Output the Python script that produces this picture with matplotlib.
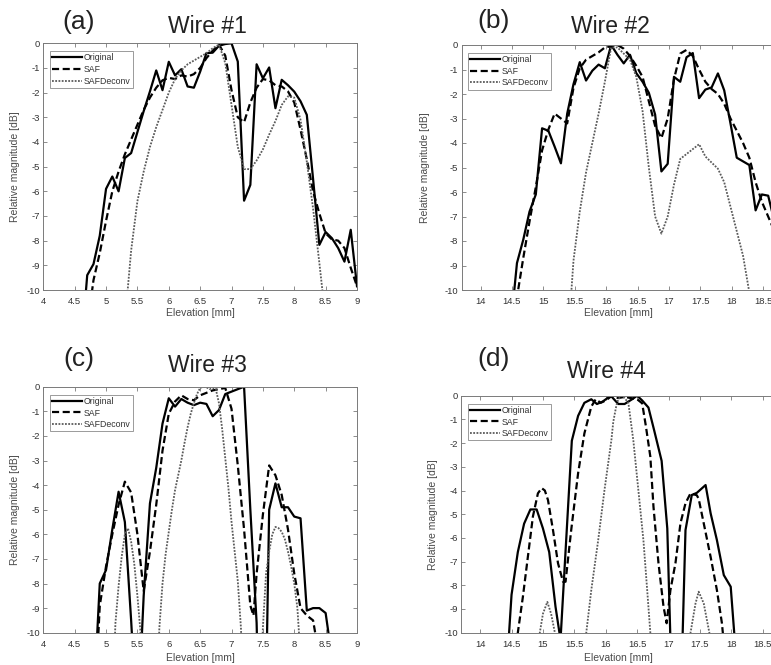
import numpy as np
import matplotlib
matplotlib.use("Agg")
import matplotlib.pyplot as plt
from matplotlib.ticker import FormatStrFormatter

plt.rcParams['font.family'] = ['Liberation Sans', 'DejaVu Sans']
plt.rcParams['axes.unicode_minus'] = False

# ---------------- data: elevation [mm] / relative magnitude [dB] ----------------
# Wire #1
a_x = np.round(np.arange(4.6, 9.05, 0.1), 2)
a_orig = [-12.5, -9.4, -8.95, -7.8, -5.9, -5.4, -6.0, -4.65, -4.45, -3.6, -2.75, -1.95,
          -1.1, -1.9, -0.75, -1.3, -1.05, -1.75, -1.8, -1.15, -0.4, -0.38, -0.1, -0.03,
          0.0, -0.74, -6.38, -5.74, -0.85, -1.42, -0.98, -2.63, -1.48, -1.7, -1.96,
          -2.35, -2.9, -5.5, -8.17, -7.65, -7.9, -8.3, -8.85, -7.56, -9.85]
a_saf = [-14, -11.5, -9.6, -8.5, -7.2, -6.0, -5.2, -4.5, -3.9, -3.3, -2.7, -2.2, -1.8,
         -1.5, -1.4, -1.45, -1.3, -1.35, -1.25, -1.0, -0.6, -0.3, -0.05, -0.5, -1.9,
         -3.0, -3.2, -2.4, -1.8, -1.45, -1.5, -1.7, -1.75, -1.95, -2.4, -3.5, -4.7,
         -6.0, -6.9, -7.7, -7.95, -8.0, -8.3, -9.1, -9.85]
a_dec_x = np.round(np.arange(5.2, 8.55, 0.1), 2)
a_dec = [-14, -11.3, -8.4, -6.4, -5.2, -4.2, -3.4, -2.7, -2.0, -1.45, -1.1, -0.85, -0.7,
         -0.55, -0.4, -0.2, -0.05, -0.8, -2.5, -4.2, -5.1, -5.1, -4.75, -4.3, -3.7,
         -3.15, -2.5, -2.15, -2.2, -3.1, -4.8, -6.7, -8.9, -11.2]

# Wire #2
b_x = np.round(np.arange(14.48, 18.70, 0.1), 2)
b_orig = [-11.5, -8.9, -7.95, -6.8, -6.1, -3.4, -3.5, -4.15, -4.83, -2.8, -1.6, -0.7,
          -1.45, -1.05, -0.8, -0.95, 0.0, -0.4, -0.75, -0.4, -1.15, -1.5, -1.95, -2.84,
          -5.16, -4.85, -1.3, -1.5, -0.5, -0.33, -2.17, -1.82, -1.73, -1.16, -1.85,
          -3.2, -4.6, -4.75, -4.9, -6.75, -6.1, -6.15, -7.2]
b_saf = [-13, -10.3, -8.7, -7.2, -5.8, -4.3, -3.45, -2.8, -3.0, -3.2, -1.75, -0.95,
         -0.6, -0.45, -0.3, -0.1, -0.05, 0.0, -0.15, -0.45, -0.85, -1.3, -2.3, -3.3,
         -3.8, -3.0, -1.4, -0.35, -0.2, -0.45, -1.0, -1.5, -1.8, -2.0, -2.4, -3.0,
         -3.5, -4.0, -4.6, -5.6, -6.4, -7.0, -7.6]
b_dec_x = np.round(np.arange(15.38, 18.40, 0.1), 2)
b_dec = [-12.5, -8.8, -6.8, -5.2, -4.0, -2.8, -1.5, -0.1, -0.1, -0.35, -0.6, -1.3,
         -2.7, -5.0, -7.0, -7.7, -7.0, -5.7, -4.65, -4.45, -4.25, -4.05, -4.55, -4.8,
         -5.05, -5.6, -6.6, -7.6, -8.6, -10.1, -11.5]

# Wire #3
c_orig_x = np.round(np.arange(4.7, 8.65, 0.1), 2)
c_orig = [-30, -13, -8.0, -7.45, -5.8, -4.27, -5.5, -9.5, -14, -8.5, -4.74, -3.3, -1.5,
          -0.47, -0.81, -0.5, -0.65, -0.75, -0.65, -0.7, -1.2, -0.95, -0.3, -0.2, -0.1,
          0.0, -5.0, -9.6, -20, -5.0, -3.93, -4.9, -4.9, -5.28, -5.35, -9.1, -9.0,
          -9.0, -9.2, -11]
c_saf_x = [4.7, 4.8, 4.9, 5.0, 5.1, 5.2, 5.3, 5.4, 5.5, 5.6, 5.7, 5.8, 5.9, 6.0, 6.1,
           6.2, 6.3, 6.4, 6.5, 6.6, 6.7, 6.8, 6.9, 7.0, 7.1, 7.2, 7.3, 7.35, 7.4, 7.5,
           7.6, 7.7, 7.8, 7.9, 8.0, 8.1, 8.2, 8.3, 8.4]
c_saf = [-30, -14, -8.9, -7.3, -6.0, -4.8, -3.86, -4.3, -6.0, -8.3, -6.7, -4.8, -2.6,
         -1.1, -0.6, -0.35, -0.5, -0.55, -0.35, -0.25, -0.15, -0.1, -0.05, -0.9, -3.2,
         -5.8, -8.9, -9.3, -7.6, -5.2, -3.2, -3.6, -4.4, -5.8, -7.6, -9.0, -9.3, -9.5,
         -11]
c_dec_x = np.round(np.arange(5.10, 8.17, 0.05), 2)
c_dec = [-13, -9.6, -8.1, -6.9, -6.0, -5.75, -6.3, -7.2, -8.5, -10.0, -13, -13, -13,
         -13, -13, -9.8, -8.0, -6.8,
         -5.9, -5.0, -4.2, -3.6, -3.0, -2.3, -1.65, -1.1, -0.67, -0.3, -0.05, 0.0,
         -0.02, -0.1, -0.05, -0.1, -0.67, -1.7, -2.9, -4.1,
         -5.5, -6.7, -7.9, -9.8, -13, -13, -13, -13, -13, -13, -9.8, -7.6, -6.7, -6.0,
         -5.7, -5.75, -5.9, -6.2, -6.7, -7.3,
         -8.0, -9.0, -11, -13]

# Wire #4
d_orig_x = [14.40, 14.50, 14.60, 14.70, 14.80, 14.90, 15.00, 15.10, 15.20, 15.28,
            15.46, 15.56, 15.66, 15.77, 15.86, 15.95, 16.08, 16.20, 16.30, 16.42,
            16.50, 16.58, 16.68, 16.77, 16.89, 16.98, 17.03, 17.12, 17.22, 17.27,
            17.37, 17.45, 17.59, 17.67, 17.77, 17.88, 17.99, 18.06]
d_orig = [-12.5, -8.4, -6.6, -5.4, -4.8, -4.8, -5.6, -6.6, -8.9, -10.3,
          -1.9, -0.85, -0.3, -0.15, -0.35, -0.25, 0.0, -0.35, -0.35, -0.15,
          0.0, -0.2, -0.5, -1.45, -2.75, -5.6, -10.3, -13, -10.5, -5.67,
          -4.19, -4.1, -3.77, -4.96, -6.09, -7.57, -8.06, -10.5]
d_saf_x = [14.50, 14.60, 14.68, 14.76, 14.84, 14.92, 14.98, 15.03, 15.08, 15.16,
           15.24, 15.32, 15.36, 15.45, 15.56, 15.66, 15.77, 15.84, 15.92, 16.00,
           16.10, 16.20, 16.30, 16.40, 16.50, 16.58, 16.64, 16.71, 16.76, 16.84,
           16.92, 16.97, 17.03, 17.11, 17.19, 17.27, 17.35, 17.45, 17.48, 17.56,
           17.67, 17.77, 17.85, 17.90]
d_saf = [-14, -10.0, -8.5, -6.8, -5.1, -4.12, -3.9, -4.0, -4.4, -5.67,
         -7.07, -7.85, -7.85, -5.67, -3.27, -1.59, -0.46, -0.15, -0.3, -0.2,
         0.0, -0.1, -0.05, -0.1, -0.15, -0.32, -1.3, -2.57, -4.68, -7.07,
         -8.9, -9.6, -8.2, -7.07, -5.38, -4.54, -4.12, -4.2, -4.35, -5.38,
         -6.8, -8.2, -9.6, -11]
d_dec_x = [14.90, 14.95, 15.00, 15.07, 15.13, 15.19, 15.25, 15.60, 15.69, 15.77,
           15.88, 15.98, 16.09, 16.12, 16.17, 16.20, 16.25, 16.30, 16.36, 16.44,
           16.52, 16.60, 16.66, 16.71, 16.80, 17.30, 17.35, 17.43, 17.48, 17.56,
           17.65, 17.70]
d_dec = [-13, -10, -9.2, -8.7, -9.2, -10, -13, -13, -10, -8.2,
         -6.09, -3.98, -1.87, -1.1, -0.4, -0.15, 0.0, -0.1, -0.3, -1.9,
         -4.0, -6.1, -8.2, -10, -13, -13, -10, -8.76, -8.27, -8.76,
         -10, -13]

series_labels = ['Original', 'SAF', 'SAFDeconv']

# ---------------- figure layout (pixel boxes: left, top, right, bottom) ----------------
W, H = 771, 665
fig = plt.figure(figsize=(W / 100, H / 100), dpi=100)


def fx(px):
    return px / W


def fy(py):
    return 1 - py / H


panels = [
    dict(box=(43.3, 43.3, 357.0, 290.0), xlim=(4, 9), ticks=np.arange(4, 9.01, 0.5),
         letter='(a)', title='Wire #1', letter_xy=(79, 22), title_xy=(207, 33),
         ylab_x=15, xlab_y=313,
         data=[(a_x, a_orig), (a_x, a_saf), (a_dec_x, a_dec)]),
    dict(box=(461.7, 45.0, 775.7, 290.0), xlim=(13.7, 18.7), ticks=np.arange(14, 18.51, 0.5),
         letter='(b)', title='Wire #2', letter_xy=(494, 21), title_xy=(610, 33),
         ylab_x=425, xlab_y=313,
         data=[(b_x, b_orig), (b_x, b_saf), (b_dec_x, b_dec)]),
    dict(box=(43.3, 386.7, 357.0, 632.7), xlim=(4, 9), ticks=np.arange(4, 9.01, 0.5),
         letter='(c)', title='Wire #3', letter_xy=(79, 359), title_xy=(207, 372),
         ylab_x=15, xlab_y=658,
         data=[(c_orig_x, c_orig), (c_saf_x, c_saf), (c_dec_x, c_dec)]),
    dict(box=(461.3, 395.7, 775.3, 632.7), xlim=(13.7, 18.7), ticks=np.arange(14, 18.51, 0.5),
         letter='(d)', title='Wire #4', letter_xy=(494, 359), title_xy=(606, 378),
         ylab_x=433, xlab_y=658,
         data=[(d_orig_x, d_orig), (d_saf_x, d_saf), (d_dec_x, d_dec)]),
]

styles = [
    dict(color='black', lw=1.6, ls='-'),
    dict(color='black', lw=1.6, ls=(0, (3.2, 1.6))),
    dict(color='#5a5a5a', lw=1.3, ls=(0, (1, 0.8))),
]

text_col = '#333333'
axis_col = '#7a7a7a'

for p in panels:
    l, t, r, b = p['box']
    ax = fig.add_axes([fx(l), fy(b), (r - l) / W, (b - t) / H])
    for (xs, ys), st, lab in zip(p['data'], styles, series_labels):
        ax.plot(xs, ys, label=lab, **st)
    ax.set_xlim(*p['xlim'])
    ax.set_ylim(-10, 0)
    ax.set_xticks(p['ticks'])
    ax.set_yticks(np.arange(-10, 0.5, 1))
    ax.xaxis.set_major_formatter(FormatStrFormatter('%g'))
    ax.yaxis.set_major_formatter(FormatStrFormatter('%g'))
    ax.tick_params(direction='in', top=True, right=True, length=3, width=0.6,
                   colors=axis_col, labelcolor=text_col, labelsize=6.8)
    ax.tick_params(axis='x', pad=5)
    ax.tick_params(axis='y', pad=2.5)
    for s in ax.spines.values():
        s.set_color(axis_col)
        s.set_linewidth(0.7)

    leg = ax.legend(loc='upper left', bbox_to_anchor=(6.6 / (r - l), 1 - 8 / (b - t)),
                    borderaxespad=0, fontsize=6.3, handlelength=3.4, handletextpad=0.2,
                    labelspacing=0.3, borderpad=0.25, fancybox=False, framealpha=1,
                    edgecolor='#8a8a8a')
    leg.get_frame().set_linewidth(0.6)
    for txt in leg.get_texts():
        txt.set_color(text_col)

    fig.text(fx(p['ylab_x']), fy((t + b) / 2), 'Relative magnitude [dB]', rotation=90,
             ha='center', va='center', fontsize=7.5, color='#4a4a4a')
    fig.text(fx((l + r) / 2 if p['xlim'][0] < 10 else 618), fy(p['xlab_y']), 'Elevation [mm]',
             ha='center', va='center', fontsize=7.5, color='#4a4a4a')
    fig.text(fx(p['letter_xy'][0]), fy(p['letter_xy'][1]), p['letter'], ha='center',
             va='center', fontsize=19, color='#222222')
    fig.text(fx(p['title_xy'][0]), fy(p['title_xy'][1]), p['title'], ha='center',
             va='baseline', fontsize=16.5, color='#222222')

fig.savefig('out.png', dpi=100)
